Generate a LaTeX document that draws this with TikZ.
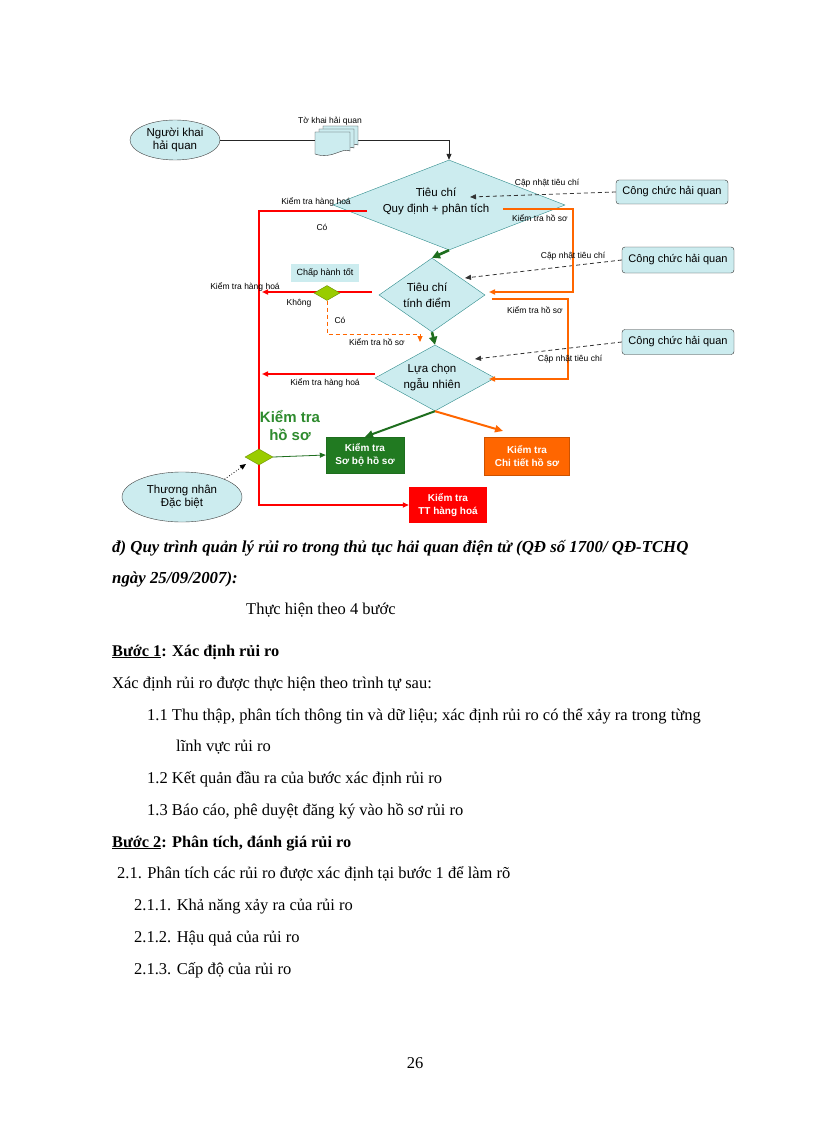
\documentclass[tikz,border=0pt]{standalone}
\usepackage{fontspec}
\setmainfont{Liberation Serif}
\newfontfamily\arial{Liberation Sans}
\usetikzlibrary{shapes.geometric,arrows.meta}
\definecolor{lb}{HTML}{CCECEF}
\definecolor{tealb}{HTML}{2E8B8B}
\definecolor{dgrn}{HTML}{1E6E1E}
\definecolor{boxgrn}{HTML}{217A21}
\definecolor{txtgrn}{HTML}{2E8B2E}
\definecolor{orng}{HTML}{FF6600}
\definecolor{ygrn}{HTML}{99CC00}
\definecolor{ygrnd}{HTML}{6B8E00}
\begin{document}
\begin{tikzpicture}[x=1pt,y=-1pt,
  tip/.style={-{Triangle[length=6pt,width=5pt]}},
  ell/.style={ellipse, draw=black!75, fill=lb, inner sep=0, align=center, font=\arial\fontsize{11.5}{13}\selectfont},
  dia/.style={diamond, draw=tealb, fill=lb, inner sep=0},
  dtxt/.style={align=center, inner sep=0, font=\arial\fontsize{11.5}{16}\selectfont},
  ccbox/.style={rectangle, rounded corners=3pt, draw=black!80, fill=lb, minimum width=112, minimum height=24, inner sep=0, font=\arial\fontsize{11}{12}\selectfont},
  lbl/.style={inner sep=0, font=\arial\fontsize{8.5}{10}\selectfont},
  kbox/.style={rectangle, inner sep=0, align=center, text=white, font=\arial\bfseries\fontsize{10}{13}\selectfont},
  sdia/.style={diamond, draw=ygrnd, fill=ygrn, inner sep=0},
  dsh/.style={draw=black!80, dash pattern=on 4pt off 3pt, thick, tip},
  redl/.style={draw=red, line width=1.5pt},
  orl/.style={draw=orng, line width=1.5pt},
  grl/.style={draw=dgrn, line width=2.6pt, -{Triangle[length=8pt,width=8pt]}},
  body/.style={anchor=base west, inner sep=0, font=\fontsize{16.5}{20}\selectfont},
  bodybi/.style={body, font=\bfseries\itshape\fontsize{16.8}{20}\selectfont},
  bodyb/.style={body, font=\bfseries\fontsize{16.3}{20}\selectfont},
]
\useasboundingbox[fill=white] (0,0) rectangle (816,1123);

% ---------- nodes ----------
\node[ell, minimum width=90, minimum height=40] (p1) at (175,140) {Người khai\\hải quan};
\node[minimum width=38, minimum height=22, inner sep=0] (doc) at (334,140) {};
\node[lbl] (tk) at (330,121) {Tờ khai hải quan};

\node[dia, minimum width=232, minimum height=90] (d1) at (449,205) {};
\node[dtxt] (d1t) at (436,201) {Tiêu chí\\Quy định + phân tích};

\node[dia, minimum width=106, minimum height=74] (d2) at (432,295) {};
\node[dtxt] (d2t) at (427,295) {Tiêu chí\\tính điểm};

\node[dia, minimum width=120, minimum height=66] (d3) at (435,378) {};
\node[dtxt] (d3t) at (432,378) {Lựa chọn\\ngẫu nhiên};

\node[ccbox] (cc1) at (672,192) {Công chức hải quan};
\node[ccbox, minimum height=26] (cc2) at (678,260) {Công chức hải quan};
\node[ccbox, minimum height=25] (cc3) at (678,342) {Công chức hải quan};

\node[kbox, fill=boxgrn, draw=dgrn, minimum width=78, minimum height=36] (kSB) at (365,455) {Kiểm tra\\Sơ bộ hồ sơ};
\node[kbox, fill=orng, draw=orng!80!black, minimum width=85, minimum height=38] (kCT) at (527,456) {Kiểm tra\\Chi tiết hồ sơ};
\node[kbox, fill=red, minimum width=78, minimum height=36] (kTT) at (448,505) {Kiểm tra\\TT hàng hoá};

\node[ell, minimum width=120, minimum height=50] (p2) at (182,497) {Thương nhân\\Đặc biệt};

\node[fill=lb, minimum width=68, minimum height=18, inner sep=0, font=\arial\fontsize{9}{10}\selectfont] (chtot) at (325,273) {Chấp hành tốt};

% ---------- coordinates ----------
\coordinate (t1) at (470,197);
\coordinate (t2) at (465,278);
\coordinate (t3) at (475,359);
\coordinate (o1s) at (503,209);
\coordinate (o1e) at (489,292);
\coordinate (o2s) at (492,299);
\coordinate (o2e) at (489,379);
\coordinate (r1s) at (367,211);
\coordinate (r2s) at (372,292);
\coordinate (r2e) at (262,292);
\coordinate (r3s) at (375,374);
\coordinate (r3e) at (262,374);
\coordinate (od1) at (420,334);
\coordinate (od2) at (420,342);
\coordinate (oc) at (503,431);
\coordinate (dt) at (246,464);

% ---------- connectors ----------
\draw[black!85, thick] (p1.east) -- (doc.west);
\draw[black!85, thick, tip] (doc.east) -| (d1.north);

% document pages (Tờ khai hải quan)
\foreach \k in {2,1,0}{
  \draw[draw=black!80, fill=lb]
    ({315+4*\k},{132-3*\k}) -- ({350+4*\k},{132-3*\k}) -- ({350+4*\k},{151-3*\k})
    .. controls ({342+4*\k},{147-3*\k}) and ({332+4*\k},{160-3*\k}) .. ({315+4*\k},{154-3*\k}) -- cycle;
}

\draw[dsh] (cc1.west) -- (t1);
\draw[dsh] (cc2.west) -- (t2);
\draw[dsh] (cc3.west) -- (t3);

\draw[orl, tip] (o1s) -- (573,209) |- (o1e);
\draw[orl, tip] (o2s) -- (568,299) |- (o2e);

\draw[redl, tip] (r1s) -- (259,211) |- (kTT.west);
\draw[redl, tip] (r2s) -- (r2e);
\draw[redl, tip] (r3s) -- (r3e);

\node[sdia, minimum width=26, minimum height=15] (g1) at (327,293) {};
\node[sdia, minimum width=28, minimum height=16] (g2) at (259,457) {};

\draw[draw=orng, thick, dash pattern=on 4pt off 3pt] (g1.south) |- (od1);
\draw[draw=orng, thick, tip] (od1) -- (od2);

\draw[grl] (d1.south) -- (d2.north);
\draw[grl] (d2.south) -- (d3.north);
\draw[draw=dgrn, line width=2pt, -{Triangle[length=8pt,width=7pt]}] (d3.south) -- (kSB.north);
\draw[draw=orng, line width=2pt, -{Triangle[length=8pt,width=7pt]}] (d3.south) -- (oc);
\draw[draw=dgrn, thick, tip] (g2.east) -- (kSB.west);
\draw[black, thick, dotted, tip] (p2.north east) -- (dt);

% ---------- labels ----------
\node[lbl] at (547,183) {Cập nhật tiêu chí};
\node[lbl] at (573,256) {Cập nhật tiêu chí};
\node[lbl] at (570,359) {Cập nhật tiêu chí};
\node[lbl] at (540,218) {Kiểm tra hồ sơ};
\node[lbl] at (535,310) {Kiểm tra hồ sơ};
\node[lbl] at (377,342) {Kiểm tra hồ sơ};
\node[lbl] at (316,202) {Kiểm tra hàng hoá};
\node[lbl] at (245,287) {Kiểm tra hàng hoá};
\node[lbl] at (325,383) {Kiểm tra hàng hoá};
\node[lbl] at (322,227) {Có};
\node[lbl] at (340,320) {Có};
\node[lbl] at (299,303) {Không};
\node[align=center, inner sep=0, text=txtgrn, font=\arial\bfseries\fontsize{15}{18}\selectfont] (ktg) at (290,426) {Kiểm tra\\hồ sơ};

% ---------- text body ----------
\node[bodybi] at (112,552) {đ) Quy trình quản lý rủi ro trong thủ tục hải quan điện tử (QĐ số 1700/ QĐ-TCHQ};
\node[bodybi] at (112,583) {ngày 25/09/2007):};
\node[body] at (246,614) {Thực hiện theo 4 bước};
\node[bodyb] at (112,656) {\underline{Bước 1}: Xác định rủi ro};
\node[body] at (112,688) {Xác định rủi ro được thực hiện theo trình tự sau:};
\node[body] at (147,720) {1.1 Thu thập, phân tích thông tin và dữ liệu; xác định rủi ro có thể xảy ra trong từng};
\node[body] at (176,751) {lĩnh vực rủi ro};
\node[body] at (147,783) {1.2 Kết quản đầu ra của bước xác định rủi ro};
\node[body] at (147,815) {1.3 Báo cáo, phê duyệt đăng ký vào hồ sơ rủi ro};
\node[bodyb] at (112,847) {\underline{Bước 2}: Phân tích, đánh giá rủi ro};
\node[body] at (117,878) {2.1. Phân tích các rủi ro được xác định tại bước 1 để làm rõ};
\node[body] at (134,910) {2.1.1. Khả năng xảy ra của rủi ro};
\node[body] at (134,942) {2.1.2. Hậu quả của rủi ro};
\node[body] at (134,974) {2.1.3. Cấp độ của rủi ro};
\node[inner sep=0, font=\fontsize{16.5}{20}\selectfont] at (415,1063) {26};
\end{tikzpicture}
\end{document}
